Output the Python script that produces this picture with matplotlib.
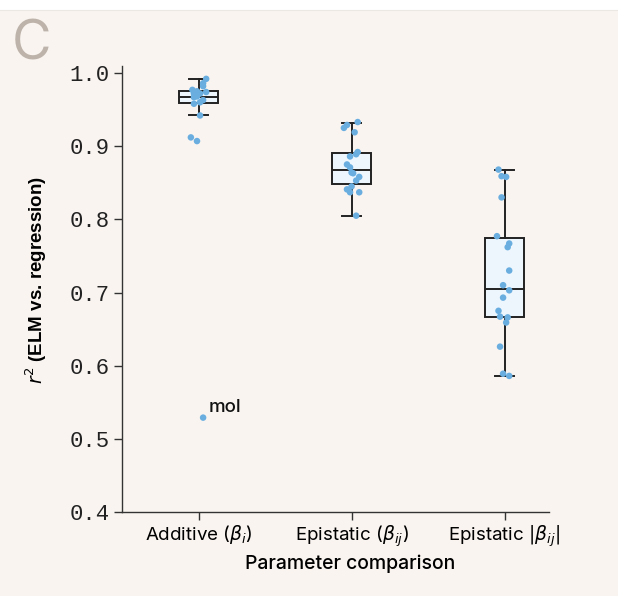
import numpy as np
import matplotlib
matplotlib.use("Agg")
import matplotlib.pyplot as plt
from matplotlib.patches import Rectangle

# ==============================================================================
# DADOS
# ==============================================================================
categories = ["Additive ($\\beta_i$)", "Epistatic ($\\beta_{ij}$)", "Epistatic $|\\beta_{ij}|$"]

additive_r2 = [0.992, 0.986, 0.982, 0.977, 0.975, 0.974, 0.972, 0.972, 0.968, 0.967,
               0.963, 0.960, 0.958, 0.942, 0.912, 0.907, 0.529]
additive_dx = [0.05, 0.03, 0.03, -0.04, -0.01, 0.05, -0.03, 0.01, -0.01, -0.03,
               0.03, 0.01, -0.03, 0.01, -0.05, -0.01, 0.03]

epistatic_r2 = [0.933, 0.929, 0.925, 0.919, 0.892, 0.889, 0.886, 0.875, 0.871, 0.864,
                0.863, 0.858, 0.853, 0.845, 0.841, 0.837, 0.837, 0.805]
epistatic_dx = [0.04, -0.03, -0.05, 0.02, 0.04, 0.03, -0.01, -0.03, -0.01, 0.0,
                0.01, 0.05, 0.03, 0.0, -0.03, -0.01, 0.05, 0.03]

abs_epistatic_r2 = [0.868, 0.859, 0.858, 0.830, 0.777, 0.767, 0.762, 0.730, 0.710, 0.703,
                    0.693, 0.675, 0.667, 0.666, 0.659, 0.626, 0.589, 0.586]
abs_epistatic_dx = [-0.04, -0.02, 0.01, -0.02, -0.05, 0.03, 0.02, 0.03, -0.01, 0.03,
                    -0.01, -0.04, -0.03, 0.02, 0.01, -0.03, -0.01, 0.03]

# estatísticas das caixas
box_q1 = [0.959, 0.848, 0.666]
box_med = [0.967, 0.868, 0.705]
box_q3 = [0.975, 0.890, 0.774]
box_whislo = [0.942, 0.805, 0.586]
box_whishi = [0.992, 0.932, 0.868]

outlier_label = "mol"
outlier_value = 0.529

y_ticks = [0.4, 0.5, 0.6, 0.7, 0.8, 0.9, 1.0]

# ==============================================================================
# FIGURA
# ==============================================================================
BG = "#f9f4f0"
POINT = "#6aaee0"
plt.rcParams["font.family"] = ["Inter", "DejaVu Sans"]
plt.rcParams["mathtext.fontset"] = "custom"
plt.rcParams["mathtext.it"] = "DejaVu Sans:italic"

fig = plt.figure(figsize=(6.18, 5.96), dpi=100)
fig.patch.set_facecolor("white")
fig.patches.append(Rectangle((0, 0), 1, 1 - 10 / 596, transform=fig.transFigure,
                             facecolor=BG, edgecolor="none", zorder=-10))
fig.add_artist(plt.Line2D([0, 1], [1 - 10 / 596] * 2, color="#ebe7e3", lw=0.8))

ax = fig.add_axes([122 / 618, 1 - 512 / 596, (549 - 122) / 618, (512 - 65.7) / 596])
ax.set_facecolor(BG)

stats = []
for i in range(3):
    stats.append(dict(q1=box_q1[i], med=box_med[i], q3=box_q3[i],
                      whislo=box_whislo[i], whishi=box_whishi[i], fliers=[]))

ax.bxp(stats, positions=[0, 1, 2], widths=0.255, patch_artist=True, showfliers=False,
       boxprops=dict(facecolor="#edf6fd", edgecolor="#222222", linewidth=1.4),
       medianprops=dict(color="#222222", linewidth=1.4),
       whiskerprops=dict(color="#222222", linewidth=1.4),
       capprops=dict(color="#222222", linewidth=1.4),
       capwidths=0.125, zorder=2)

groups = [(additive_r2, additive_dx), (epistatic_r2, epistatic_dx), (abs_epistatic_r2, abs_epistatic_dx)]
for i, (vals, dx) in enumerate(groups):
    ax.scatter(np.array(dx) + i, vals, s=22, color=POINT, edgecolor="none", zorder=3)

ax.annotate(outlier_label, xy=(additive_dx[-1], outlier_value), xytext=(4, 4),
            textcoords="offset points", fontsize=13.5, fontweight="medium", color="#111111")

ax.set_xlim(-0.5, 2.29)
ax.set_ylim(0.4, 1.01)
ax.set_yticks(y_ticks)
ax.set_yticklabels([f"{v:.1f}" for v in y_ticks], family="Liberation Mono", fontsize=16,
                   color="#222222")
ax.set_xticks([0, 1, 2])
ax.set_xticklabels(categories, fontsize=13.5)

for s in ["top", "right"]:
    ax.spines[s].set_visible(False)
for s in ["left", "bottom"]:
    ax.spines[s].set_color("#333333")
    ax.spines[s].set_linewidth(1.0)
ax.tick_params(axis="both", color="#333333", length=6, width=1.0)
ax.tick_params(axis="x", pad=2)
ax.tick_params(axis="y", pad=3)

ax.set_ylabel("$r^2$ (ELM vs. regression)", fontsize=13.5, fontweight="bold",
              family="Liberation Sans")
ax.yaxis.set_label_coords(-0.171, 0.52)
ax.set_xlabel("Parameter comparison", fontsize=14, fontweight="medium")
ax.xaxis.set_label_coords(0.535, -0.095)

fig.text(12 / 618, 1 - 60 / 596, "C", fontsize=39, color="#bdb3aa", fontweight="normal")

fig.savefig("out.png", dpi=100, facecolor=fig.get_facecolor())
